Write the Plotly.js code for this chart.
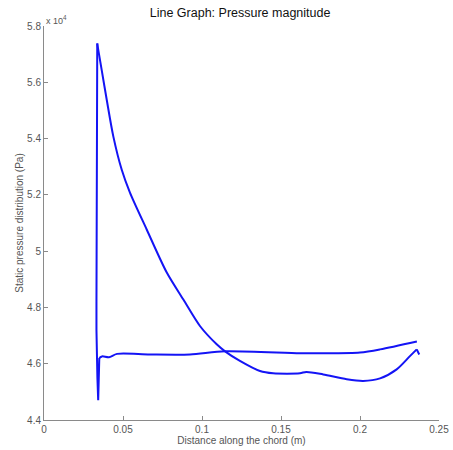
<!DOCTYPE html>
<html>
<head>
<meta charset="utf-8">
<script src="https://cdn.plot.ly/plotly-3.0.1.min.js"></script>
<style>html,body{margin:0;padding:0;background:#fff;}#chart{width:453px;height:450px;}</style>
</head>
<body>
<div id="chart"></div>
<script>
// Surface 1: from trailing edge along the flat curve to the leading edge
var xSurfA = [0.2360, 0.2127, 0.2000, 0.1750, 0.1620, 0.1146, 0.0924, 0.0670, 0.0462, 0.0411, 0.0367, 0.0350];
var pSurfA = [46790, 46510, 46400, 46370, 46370, 46440, 46330, 46330, 46350, 46230, 46260, 46200];
// Leading edge: dip and rise to the suction peak
var xLead = [0.0350, 0.0346, 0.0343, 0.0338, 0.0334, 0.0332, 0.0332, 0.0333, 0.0335, 0.0337];
var pLead = [46200, 45500, 44700, 45500, 46500, 47200, 48200, 55300, 57200, 57380];
// Surface 2: from the suction peak down to the trailing edge hook
var xSurfB = [0.0337, 0.0345, 0.0365, 0.0397, 0.0439, 0.0492, 0.0544, 0.0650, 0.0777, 0.0882, 0.0987, 0.1093, 0.1146, 0.1240, 0.1367, 0.1450, 0.1620, 0.1660, 0.1767, 0.1916, 0.2020, 0.2127, 0.2232, 0.2316, 0.2359];
var pSurfB = [57380, 57100, 56440, 55380, 54070, 52890, 52080, 50770, 49240, 48280, 47340, 46690, 46440, 46100, 45740, 45660, 45660, 45710, 45620, 45450, 45390, 45480, 45800, 46270, 46510];
var xHook = [0.2359, 0.2375];
var pHook = [46510, 46330];

var yTickVals = [44000, 46000, 48000, 50000, 52000, 54000, 56000, 58000];
var yTickText = ['4.4', '4.6', '4.8', '5', '5.2', '5.4', '5.6', '5.8'];
var xTickVals = [0, 0.05, 0.1, 0.15, 0.2, 0.25];
var xTickText = ['0', '0.05', '0.1', '0.15', '0.2', '0.25'];

var lineColor = 'rgb(20,20,245)';
function tr(x, y, smooth) {
  var line = {color: lineColor, width: 2};
  if (smooth) { line.shape = 'spline'; line.smoothing = 0.8; }
  return {x: x, y: y, mode: 'lines', line: line, showlegend: false, hoverinfo: 'skip'};
}
var traces = [tr(xSurfA, pSurfA, true), tr(xLead, pLead, false), tr(xSurfB, pSurfB, true), tr(xHook, pHook, false)];

var fam = 'Liberation Sans, Arial, sans-serif';
var axisCommon = {
  showline: true, linecolor: '#8a8a8a', linewidth: 1,
  ticks: 'inside', ticklen: 4, tickcolor: '#8a8a8a', tickwidth: 1,
  showgrid: false, zeroline: false, mirror: false,
  tickfont: {family: fam, size: 10, color: '#555'}
};

var layout = {
  width: 453, height: 450,
  margin: {l: 44, r: 14, t: 26, b: 30},
  paper_bgcolor: '#fff', plot_bgcolor: '#fff',
  title: {text: 'Line Graph: Pressure magnitude', x: 0.53, xanchor: 'center', y: 0.972, yanchor: 'middle',
          font: {family: fam, size: 12.5, color: '#111'}},
  xaxis: Object.assign({}, axisCommon, {
    range: [0, 0.25], tickvals: xTickVals, ticktext: xTickText,
    title: {text: 'Distance along the chord (m)', standoff: 2, font: {family: fam, size: 10, color: '#555'}}
  }),
  yaxis: Object.assign({}, axisCommon, {
    range: [44000, 58000], tickvals: yTickVals, ticktext: yTickText,
    title: {text: 'Static pressure distribution (Pa)', standoff: 1, font: {family: fam, size: 10, color: '#555'}}
  }),
  annotations: [{
    text: 'x 10<sup>4</sup>', xref: 'paper', yref: 'paper', x: 0, y: 1, xanchor: 'left', yanchor: 'bottom',
    yshift: -2, showarrow: false, font: {family: fam, size: 9, color: '#555'}
  }]
};

Plotly.newPlot('chart', traces, layout, {displayModeBar: false, staticPlot: true});
</script>
</body>
</html>
